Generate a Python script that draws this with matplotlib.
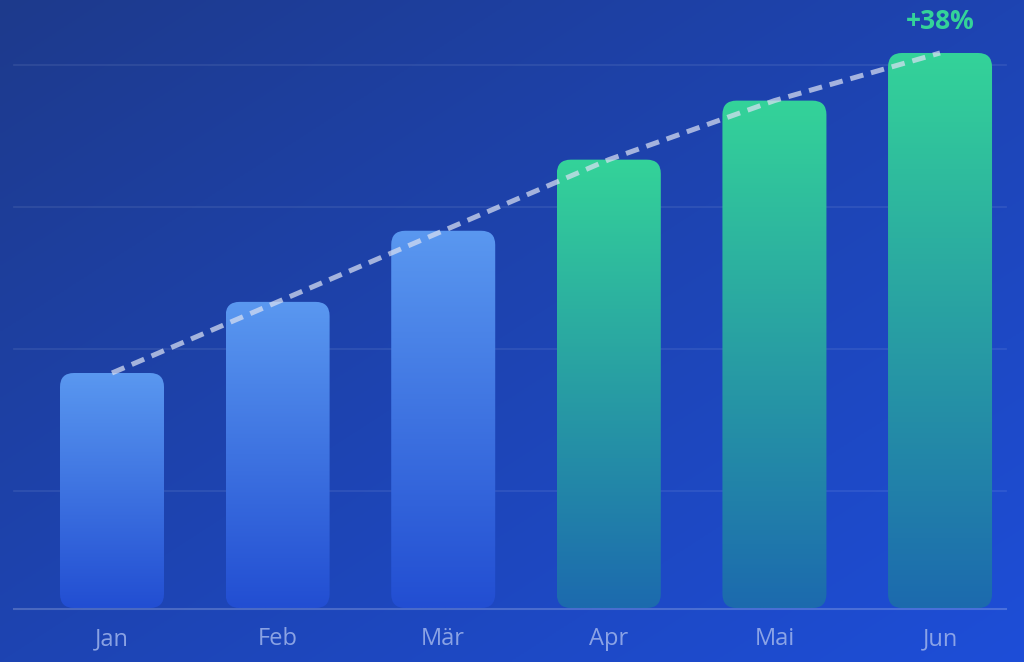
import numpy as np
import matplotlib
matplotlib.use("Agg")
import matplotlib.pyplot as plt
from matplotlib.patches import FancyBboxPatch

months = ["Jan", "Feb", "Mär", "Apr", "Mai", "Jun"]
values = [120, 130, 140, 150, 158.3, 165]
grid_vals = [103.4, 123.4, 143.35, 163.3]
baseline = 86.95

plt.rcParams['font.family'] = ['Open Sans', 'DejaVu Sans']

W, H = 1024, 662
fig = plt.figure(figsize=(W / 100, H / 100), dpi=100)
ax = fig.add_axes([0, 0, 1, 1])
ax.set_axis_off()
xlo, xhi = -0.6763, 5.507
ylo, yhi = 79.36, 172.45
ax.set_xlim(xlo, xhi)
ax.set_ylim(ylo, yhi)

# background diagonal gradient
gx, gy = np.meshgrid(np.linspace(0, 1, 256), np.linspace(0, 1, 256))
t = np.clip((gx + gy) / 2, 0, 1)
c0 = np.array([30, 58, 140]) / 255
c1 = np.array([29, 78, 216]) / 255
bg = c0[None, None, :] * (1 - t[..., None]) + c1[None, None, :] * t[..., None]
ax.imshow(bg, extent=[0, 1, 0, 1], transform=ax.transAxes, aspect='auto',
          origin='upper', zorder=0)

# grid lines
gx0, gx1 = -0.592, 5.399
for g in grid_vals:
    ax.plot([gx0, gx1], [g, g], color='white', alpha=0.09, lw=1.2, zorder=1)
ax.plot([gx0, gx1], [baseline - 0.1, baseline - 0.1], color='white', alpha=0.2,
        lw=1.5, zorder=4)

# bars
px_x = 165.6
px_y = 7.111
bw = 104 / px_x
r = 14 / px_x
blue_top = np.array([90, 152, 240]) / 255
blue_bot = np.array([34, 78, 210]) / 255
green_top = np.array([52, 211, 153]) / 255
green_bot = np.array([28, 106, 174]) / 255
for i, v in enumerate(values):
    top, bot = (blue_top, blue_bot) if i < 3 else (green_top, green_bot)
    s = np.linspace(0, 1, 256)[:, None]
    grad = top[None, :] * (1 - s) + bot[None, :] * s
    grad = grad[:, None, :]
    im = ax.imshow(grad, extent=[i - bw / 2, i + bw / 2, baseline, v],
                   aspect='auto', origin='upper', zorder=2)
    clip = FancyBboxPatch((i - bw / 2, baseline), bw, v - baseline,
                          boxstyle=f"round,pad=0,rounding_size={r}",
                          mutation_aspect=px_x / px_y,
                          transform=ax.transData, facecolor='none',
                          edgecolor='none')
    ax.add_patch(clip)
    im.set_clip_path(clip)
    ax.text(i, 82.6, months[i], ha='center', va='center', fontsize=17,
            color=(0.62, 0.70, 0.92), alpha=0.85, zorder=5)

# dashed trend line
xs = np.arange(len(values))
ax.plot(xs, values, color=(0.85, 0.88, 0.95), alpha=0.72, lw=3.6,
        dashes=(2.7, 1.6), solid_capstyle='butt', zorder=3)

pct = round((values[-1] / values[0] - 1) * 100)
ax.text(len(values) - 1, 169.4, f"+{pct}%", ha='center', va='center',
        fontsize=19, fontweight='bold', color='#34d399', zorder=5)

ax.set_xlim(xlo, xhi)
ax.set_ylim(ylo, yhi)
fig.savefig("out.png", dpi=100)
